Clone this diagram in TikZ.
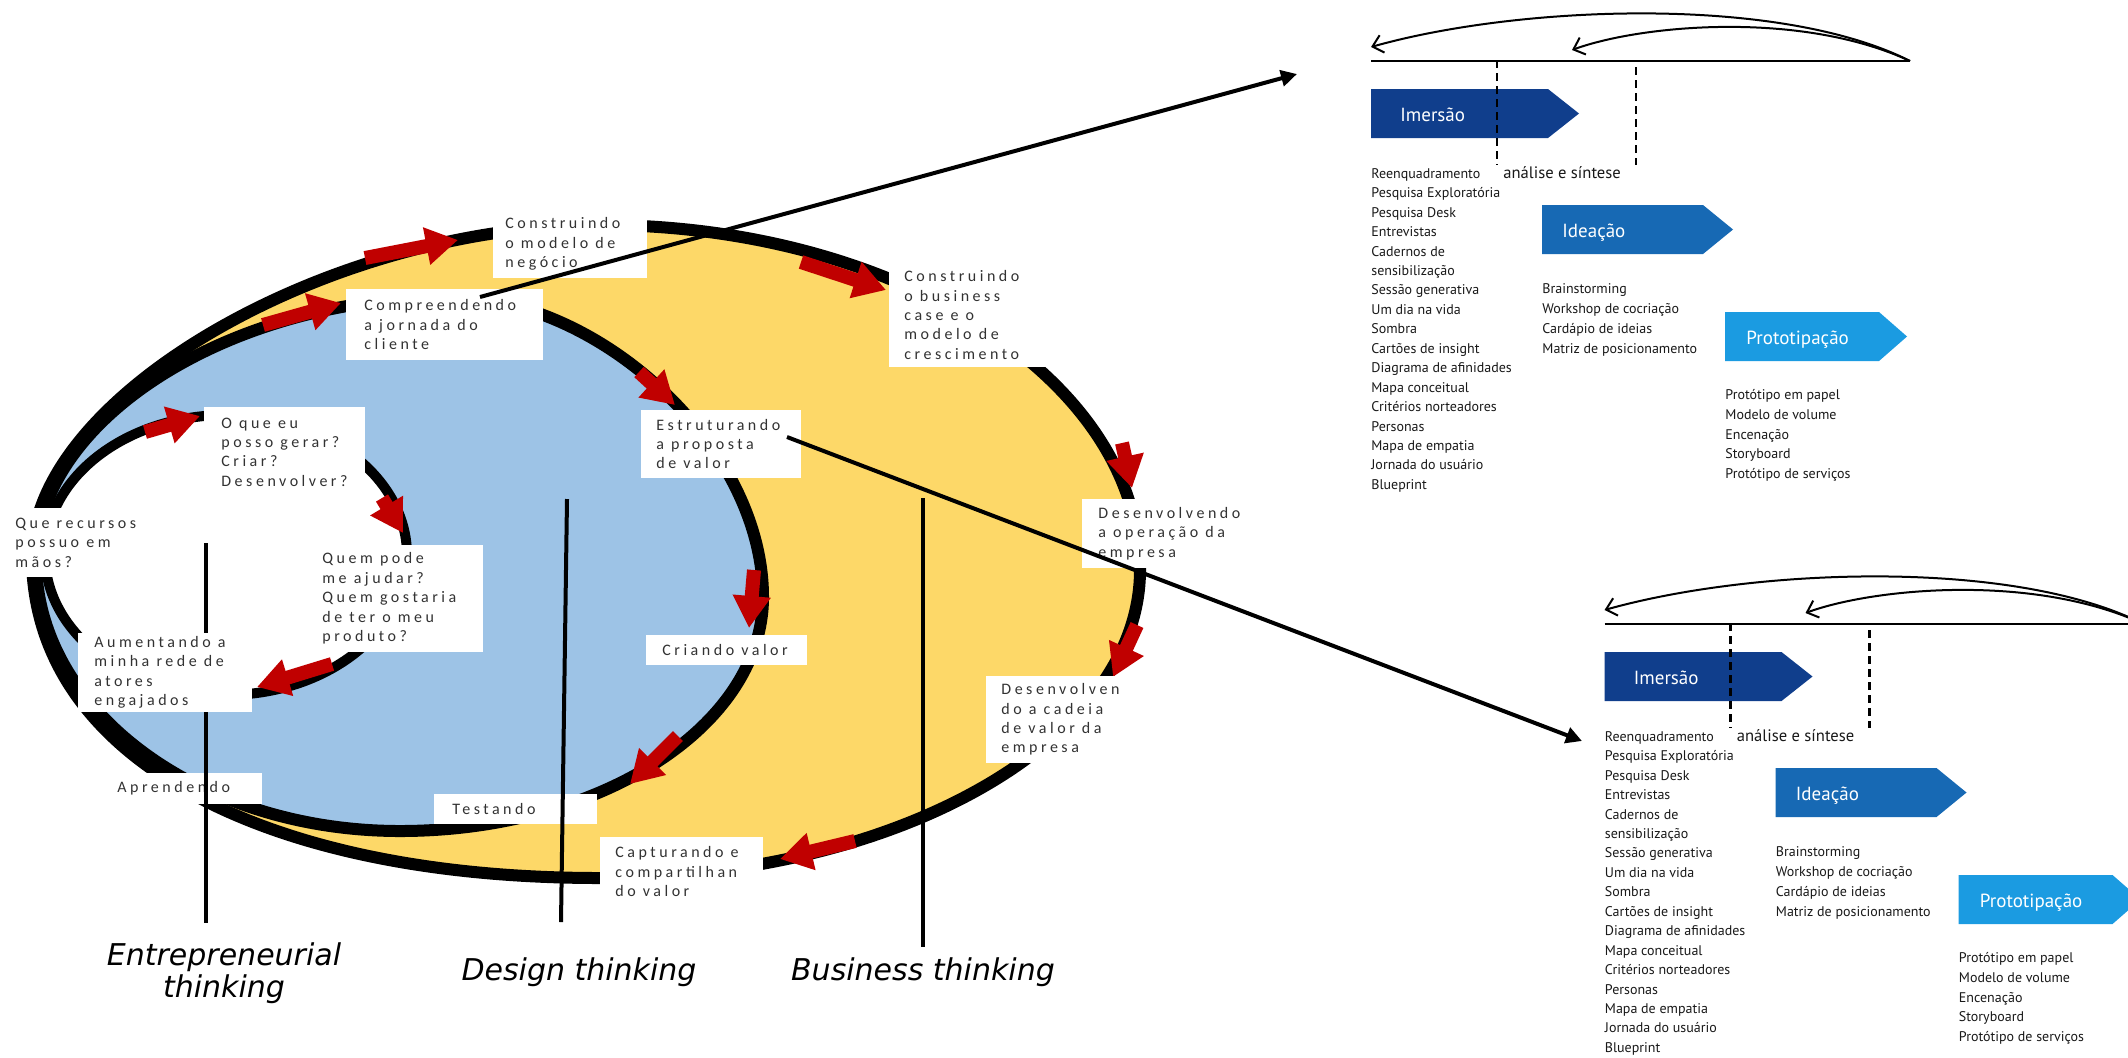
\documentclass[tikz,border=0pt]{standalone}
\usepackage{fontspec}
\setmainfont{Liberation Sans}
\newfontfamily\boxfont[LetterSpace=22]{Carlito}
\newfontfamily\panelfont{PT Sans}
\newfontfamily\thinkfont{DejaVu Sans}
\usetikzlibrary{arrows.meta}
\definecolor{ylw}{RGB}{253,216,104}
\definecolor{blu}{RGB}{157,195,230}
\definecolor{arred}{RGB}{192,0,0}
\definecolor{imer}{RGB}{16,62,140}
\definecolor{idea}{RGB}{23,105,180}
\definecolor{proto}{RGB}{27,155,225}
\definecolor{txtgray}{RGB}{50,50,50}
\tikzset{
  bg/.style={fill=white, draw=none, inner sep=0pt, outer sep=0pt, anchor=north west},
  bt/.style={anchor=west, inner sep=0pt, align=left, text=txtgray, font=\boxfont\fontsize{8}{9.7}\selectfont},
  redarr/.style={draw=arred, line width=7pt, -{Triangle[length=16pt,width=18pt]}},
  rim/.style={draw=black, line width=6pt, line join=round},
  vline/.style={draw=black, line width=2pt},
  think/.style={font=\thinkfont\itshape\fontsize{15}{16}\selectfont, align=center, inner sep=0pt},
  bigarr/.style={draw=black, line width=2pt, -{Triangle[length=8pt,width=8pt]}},
  ptxt/.style={font=\panelfont\fontsize{7}{9.72}\selectfont, align=left, inner sep=0pt, anchor=north west, text=black!90},
  plab/.style={font=\panelfont\fontsize{9.5}{11}\selectfont, text=white, inner sep=0pt, anchor=base west},
  barb/.style={draw=black, line width=1pt, -{Straight Barb[length=5pt,width=9pt]}},
  dsh/.style={draw=black, line width=1.4pt, dash pattern=on 4pt off 2.5pt},
}
\newcommand\dtpanel[1]{%
  \coordinate (pr#1) at (1910,61);
  \coordinate (pl#1) at (1371,61);
  \coordinate (pa#1) at (1371,47);
  \coordinate (pb#1) at (1572,50);
  \draw[line width=1pt] (pl#1) -- (pr#1);
  \draw[barb] (pr#1) .. controls (1780,-5) and (1520,5) .. (pa#1);
  \draw[barb] (pr#1) .. controls (1800,10) and (1640,25) .. (pb#1);
  \fill[imer] (1371,89) -- (1548,89) -- (1579,113.5) -- (1548,138) -- (1371,138) -- cycle;
  \node[plab] (imer#1) at (1400,121) {Imersão};
  \fill[idea] (1542,205) -- (1703,205) -- (1733,229.5) -- (1703,254) -- (1542,254) -- cycle;
  \node[plab] (idea#1) at (1562,237) {Ideação};
  \fill[proto] (1725,312) -- (1879,312) -- (1907,336.5) -- (1879,361) -- (1725,361) -- cycle;
  \node[plab] (proto#1) at (1746,344) {Prototipação};
  \draw[dsh] (1497,60) -- (1497,165);
  \draw[dsh] (1636,67) -- (1636,165);
  \node[plab, text=black!90, font=\panelfont\fontsize{8.3}{10}\selectfont] (as#1) at (1503,178) {análise e síntese};
  \node[ptxt] (col1#1) at (1371,168) {Reenquadramento\\Pesquisa Exploratória\\Pesquisa Desk\\Entrevistas\\Cadernos de\\sensibilização\\Sessão generativa\\Um dia na vida\\Sombra\\Cartões de insight\\Diagrama de afinidades\\Mapa conceitual\\Critérios norteadores\\Personas\\Mapa de empatia\\Jornada do usuário\\Blueprint};
  \node[ptxt, font=\panelfont\fontsize{7}{10}\selectfont] (col2#1) at (1542,283) {Brainstorming\\Workshop de cocriação\\Cardápio de ideias\\Matriz de posicionamento};
  \node[ptxt, font=\panelfont\fontsize{7}{9.9}\selectfont] (col3#1) at (1725,389) {Protótipo em papel\\Modelo de volume\\Encenação\\Storyboard\\Protótipo de serviços};
}
\begin{document}
\begin{tikzpicture}[x=0.5pt, y=-0.5pt]
\useasboundingbox (0,0) rectangle (2128,1057);
\fill[white] (0,0) rectangle (2128,1057);
\clip (0,0) rectangle (2128,1057);

% business (yellow) region
\draw[rim, fill=ylw] (32,556) .. controls (32,396) and (330,225) .. (600,225)
  .. controls (898,225) and (1140,380) .. (1140,570)
  .. controls (1140,740) and (898,878) .. (600,878)
  .. controls (260,878) and (32,756) .. (32,556);
% design (blue) region
\draw[rim, fill=blu] (36,560) .. controls (36,420) and (230,297) .. (450,297)
  .. controls (600,297) and (763,447) .. (763,597)
  .. controls (763,726) and (600,831) .. (400,831)
  .. controls (199,831) and (36,710) .. (36,560);
% entrepreneurial (white) loop
\draw[draw=black, line width=5pt, fill=white] (226,555) ellipse [x radius=90.5pt, y radius=70pt];

% red flow arrows
\draw[redarr] (365,258) -- (458,240);
\draw[redarr] (801,262) -- (886,290);
\draw[redarr] (1122,443) -- (1132,488);
\draw[redarr] (1137,625) -- (1113,677);
\draw[redarr] (855,841) -- (780,859);
\draw[redarr] (263,325) -- (341,303);
\draw[redarr] (639,372) -- (675,405);
\draw[redarr] (754,570) -- (749,628);
\draw[redarr] (678,736) -- (630,784);
\draw[redarr] (145,432) -- (200,416);
\draw[redarr] (382,498) -- (403,533);
\draw[redarr] (332,664) -- (257,687);

% boxes under the vertical lines
\node[bg, minimum width=81pt, minimum height=15.5pt] (c9) at (100,773) {};
\node[bt] (c9t) at ([xshift=8.5pt]c9.west) {Aprendendo};
\node[bg, minimum width=81.5pt, minimum height=15pt] (c11) at (434,794) {};
\node[bt] (c11t) at ([xshift=9pt]c11.west) {Testando};

% thinking lines
\coordinate (e1) at (206,543); \coordinate (e2) at (206,923);
\coordinate (d1) at (567,499); \coordinate (d2) at (561,922);
\coordinate (b1) at (923,498); \coordinate (b2) at (923,947);
\draw[vline] (e1) -- (e2);
\draw[vline] (d1) -- (d2);
\draw[vline] (b1) -- (b2);

% other boxes
\node[bg, minimum width=77pt, minimum height=34pt] (c1) at (493,210) {};
\node[bt] (c1t) at ([xshift=6pt]c1.west) {Construindo\\o modelo de\\negócio};
\node[bg, minimum width=98.5pt, minimum height=35.5pt] (c2) at (346,289) {};
\node[bt] (c2t) at ([xshift=9pt]c2.west) {Compreendendo\\a jornada do\\cliente};
\node[bg, minimum width=80.5pt, minimum height=52pt] (c3) at (889,263) {};
\node[bt] (c3t) at ([xshift=7.5pt]c3.west) {Construindo\\o business\\case e o\\modelo de\\crescimento};
\node[bg, minimum width=80pt, minimum height=34pt] (c4) at (641,410) {};
\node[bt] (c4t) at ([xshift=7.5pt]c4.west) {Estruturando\\a proposta\\de valor};
\node[bg, minimum width=80.5pt, minimum height=45pt] (c5) at (204,407) {};
\node[bt] (c5t) at ([xshift=8.5pt]c5.west) {O que eu\\posso gerar?\\Criar?\\Desenvolver?};
\node[bg, minimum width=68.5pt, minimum height=34.5pt] (c6) at (8,508) {};
\node[bt] (c6t) at ([xshift=3.5pt]c6.west) {Que recursos\\possuo em\\mãos?};
\node[bg, minimum width=85.5pt, minimum height=53.5pt] (c7) at (312,545) {};
\node[bt] (c7t) at ([xshift=5pt]c7.west) {Quem pode\\me ajudar?\\Quem gostaria\\de ter o meu\\produto?};
\node[bg, minimum width=87pt, minimum height=39.5pt] (c8) at (78,633) {};
\node[bt] (c8t) at ([xshift=8pt]c8.west) {Aumentando a\\minha rede de\\atores\\engajados};
\node[bg, minimum width=80.5pt, minimum height=15pt] (c10) at (646,635) {};
\node[bt] (c10t) at ([xshift=8pt]c10.west) {Criando valor};
\node[bg, minimum width=81.5pt, minimum height=34.5pt] (c12) at (600,837) {};
\node[bt] (c12t) at ([xshift=7.5pt]c12.west) {Capturando e\\compartilhan\\do valor};
\node[bg, minimum width=84pt, minimum height=34.5pt] (c13) at (1082,499) {};
\node[bt] (c13t) at ([xshift=8pt]c13.west) {Desenvolvendo\\a operação da\\empresa};
\node[bg, minimum width=80.5pt, minimum height=43.5pt] (c14) at (986,676) {};
\node[bt] (c14t) at ([xshift=7.5pt]c14.west) {Desenvolven\\do a cadeia\\de valor da\\empresa};

% thinking labels
\node[think] (lent) at (224,973) {Entrepreneurial\\thinking};
\node[think] (ldes) at (579,972) {Design thinking};
\node[think] (lbus) at (923,972) {Business thinking};

% zoom arrows
\coordinate (s1) at (480,297); \coordinate (t1) at (1297,74);
\coordinate (s2) at (787,437); \coordinate (t2) at (1582,741);
\draw[bigarr] (s1) -- (t1);
\draw[bigarr] (s2) -- (t2);

% panels
\dtpanel{a}
\begin{scope}[shift={(233.5,563)}]
\dtpanel{b}
\end{scope}
\end{tikzpicture}
\end{document}
